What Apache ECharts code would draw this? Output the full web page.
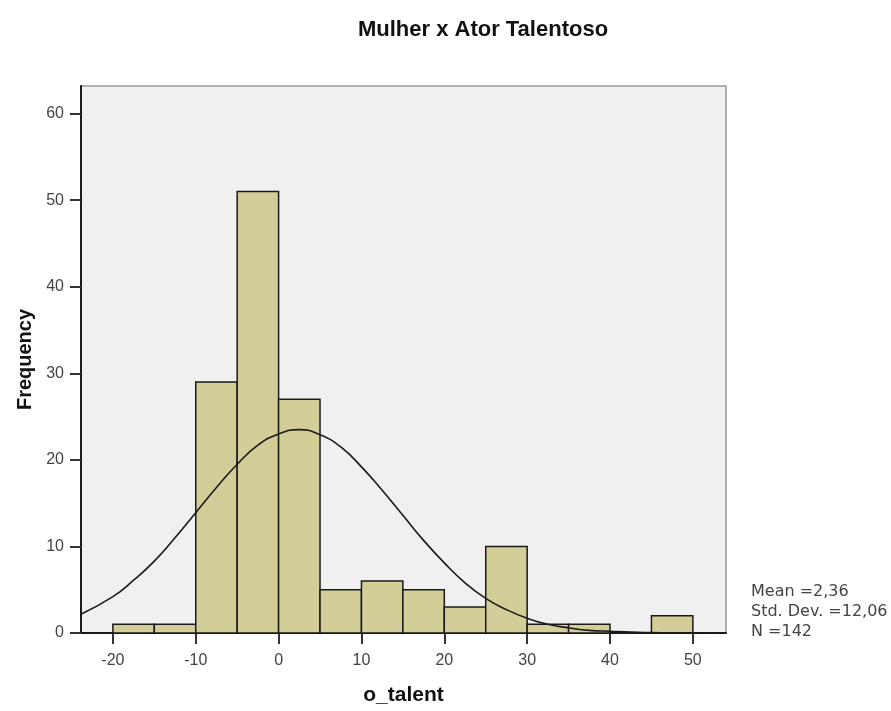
<!DOCTYPE html>
<html>
<head>
<meta charset="utf-8">
<script src="https://cdn.jsdelivr.net/npm/echarts@6/dist/echarts.min.js"></script>
<style>
html,body{margin:0;padding:0;background:#fff;}
#chart{width:891px;height:711px;}
</style>
</head>
<body>
<div id="chart"></div>
<script>
const titleText = 'Mulher x Ator Talentoso';
const xName = 'o_talent';
const yName = 'Frequency';
const binStart = [-20,-15,-10,-5,0,5,10,15,20,25,30,35,40,45];
const binEnd   = [-15,-10,-5,0,5,10,15,20,25,30,35,40,45,50];
const frequencies = [1,1,29,51,27,5,6,5,3,10,1,1,0,2];
const curveX = [-23.8,-20,-17.5,-15,-12.5,-10,-7.5,-5,-2.5,0,2.5,5,7.5,10,12.5,15,17.5,20,22.5,25,27.5,30,32.5,35,37.5,40,42.5,45,47.5,50,52.5,54];
const curveY = [2.2,4.2,6.1,8.3,11.0,13.9,16.8,19.5,21.7,23.0,23.5,22.9,21.5,19.2,16.5,13.6,10.7,8.1,5.8,4.0,2.7,1.7,1.0,0.6,0.3,0.2,0.1,0.05,0.02,0.01,0,0];
const xTicks = [-20,-10,0,10,20,30,40,50];
const yTicks = [0,10,20,30,40,50,60];
const xRange = [-23.85, 54];
const yRange = [0, 63.2];
const statsLines = ['Mean =2,36', 'Std. Dev. =12,06', 'N =142'];

const font = 'Liberation Sans, Arial, sans-serif';
const chart = echarts.init(document.getElementById('chart'));

const barData = binStart.map((s, i) => [s, binEnd[i], frequencies[i]]);
const curveData = curveX.map((x, i) => [x, curveY[i]]);

chart.setOption({
  animation: false,
  backgroundColor: '#ffffff',
  title: {
    text: titleText,
    left: 478, top: 14, textAlign: 'center',
    textStyle: {fontFamily: font, fontSize: 22, fontWeight: 'bold', color: '#111'}
  },
  grid: {
    left: 81, right: 165, top: 86, bottom: 78,
    show: true, backgroundColor: '#f0f0f0', borderColor: '#999999', borderWidth: 1.5
  },
  xAxis: {
    type: 'value', min: xRange[0], max: xRange[1],
    name: xName, nameLocation: 'middle', nameGap: 52,
    nameTextStyle: {fontFamily: font, fontSize: 21, fontWeight: 'bold', color: '#111'},
    axisLine: {show: true, onZero: false, lineStyle: {color: '#1a1a1a', width: 2}},
    axisTick: {show: true, inside: false, length: 11, customValues: xTicks, lineStyle: {color: '#333', width: 2}},
    axisLabel: {customValues: xTicks, margin: 20, fontFamily: font, fontSize: 16, color: '#444'},
    splitLine: {show: false}
  },
  yAxis: {
    type: 'value', min: yRange[0], max: yRange[1],
    name: yName, nameLocation: 'middle', nameGap: 44, nameRotate: 90,
    nameTextStyle: {fontFamily: font, fontSize: 20, fontWeight: 'bold', color: '#111'},
    axisLine: {show: true, onZero: false, lineStyle: {color: '#1a1a1a', width: 2}},
    axisTick: {show: true, inside: false, length: 11, customValues: yTicks, lineStyle: {color: '#333', width: 2}},
    axisLabel: {customValues: yTicks, margin: 17, fontFamily: font, fontSize: 16, color: '#444'},
    splitLine: {show: false}
  },
  graphic: [{
    type: 'text', left: 751, top: 582,
    style: {text: statsLines.join('\n'), fontFamily: 'DejaVu Sans, sans-serif', fontSize: 16, lineHeight: 20, fill: '#444'}
  }],
  series: [{
    type: 'custom',
    data: barData,
    encode: {x: [0, 1], y: 2},
    z: 2,
    renderItem: function (params, api) {
      const f = api.value(2);
      if (!f) return null;
      const p0 = api.coord([api.value(0), 0]);
      const p1 = api.coord([api.value(1), f]);
      return {
        type: 'rect',
        shape: {x: p0[0], y: p1[1], width: p1[0] - p0[0], height: p0[1] - p1[1]},
        style: {fill: '#d3ce98', stroke: '#1a1a1a', lineWidth: 1.5}
      };
    }
  }, {
    type: 'line',
    data: curveData,
    smooth: 0.5,
    showSymbol: false,
    z: 3,
    lineStyle: {color: '#1a1a1a', width: 1.6}
  }]
});
</script>
</body>
</html>
